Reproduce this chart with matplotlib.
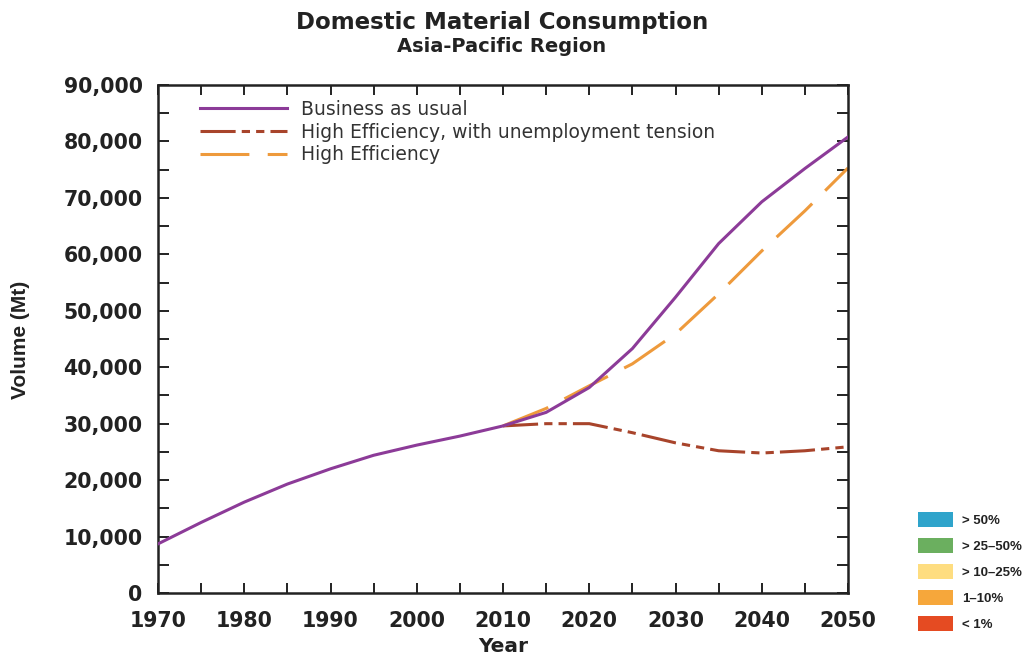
import matplotlib
matplotlib.use("Agg")
import matplotlib.pyplot as plt
from matplotlib.patches import Rectangle
from matplotlib.ticker import MultipleLocator, FuncFormatter

# data (Mt)
years_hist = [1970, 1975, 1980, 1985, 1990, 1995, 2000, 2005, 2010]
dmc_hist = [8700, 12500, 16100, 19300, 22000, 24400, 26200, 27800, 29600]

years_proj = [2010, 2015, 2020, 2025, 2030, 2035, 2040, 2045, 2050]
bau = [29600, 32000, 36400, 43300, 52400, 61900, 69300, 75200, 80800]
high_eff_tension = [29600, 30000, 30000, 28400, 26600, 25200, 24800, 25200, 25900]
high_eff = [29600, 32700, 36700, 40600, 45900, 53000, 60600, 67700, 75300]

key_labels = ["> 50%", "> 25\u201350%", "> 10\u201325%", "1\u201310%", "< 1%"]
key_colors = ["#2FA4CB", "#6BAF5F", "#FEDD80", "#F6A73B", "#E54B22"]

c_bau = "#8C3B98"
c_tension = "#A8442B"
c_eff = "#EE9A3C"
dark = "#222222"
narrow = ["Liberation Sans Narrow", "Liberation Sans", "DejaVu Sans"]

W, H = 1027.0, 654.0
fig = plt.figure(figsize=(W / 100, H / 100), dpi=100)
ax = fig.add_axes([158 / W, 1 - 593 / H, 690 / W, 508 / H])

# business as usual drawn as one line through history + projection
ax.plot(years_hist + years_proj[1:], dmc_hist + bau[1:], color=c_bau, lw=2.2,
        label="Business as usual", zorder=3)
ax.plot(years_proj, high_eff_tension, color=c_tension, lw=2.2,
        dashes=(11.5, 2.0, 2.7, 2.0, 2.7, 2.0),
        label="High Efficiency, with unemployment tension", zorder=2)
ax.plot(years_proj, high_eff, color=c_eff, lw=2.2, dashes=(16, 6),
        label="High Efficiency", zorder=2)

ax.set_xlim(1970, 2050)
ax.set_ylim(0, 90000)
ax.xaxis.set_major_locator(MultipleLocator(10))
ax.xaxis.set_minor_locator(MultipleLocator(5))
ax.yaxis.set_major_locator(MultipleLocator(10000))
ax.yaxis.set_minor_locator(MultipleLocator(5000))
ax.yaxis.set_major_formatter(FuncFormatter(lambda v, p: f"{int(v):,}"))

ax.tick_params(which="both", direction="in", top=True, right=True,
               width=1.4, color=dark)
ax.tick_params(which="both", axis="y", length=8)
ax.tick_params(which="both", axis="x", length=7)
ax.tick_params(which="major", axis="x", pad=13)
ax.tick_params(which="major", axis="y", pad=11)
for lab in ax.get_xticklabels() + ax.get_yticklabels():
    lab.set_fontweight("bold")
    lab.set_fontsize(14.8)
    lab.set_color(dark)
for sp in ax.spines.values():
    sp.set_linewidth(1.8)
    sp.set_color(dark)

fig.text(503 / W, 1 - 646 / H, "Year", ha="center", va="center",
         fontsize=14.5, fontweight="bold", color=dark)
fig.text(21 / W, 1 - 340 / H, "Volume (Mt)", ha="center", va="center",
         rotation=90, fontsize=15, fontweight="bold", color=dark, family=narrow)

leg = ax.legend(loc="upper left", bbox_to_anchor=(0.045, 0.993), frameon=False,
                prop={"family": "DejaVu Sans", "size": 13.5}, handlelength=4.6,
                handletextpad=0.75, labelspacing=0.2, borderaxespad=0.2)
for t in leg.get_texts():
    t.set_color("#333333")

fig.text(502 / W, 1 - 22 / H, "Domestic Material Consumption", ha="center", va="center",
         fontsize=16.5, fontweight="bold", color=dark)
fig.text(502 / W, 1 - 46 / H, "Asia-Pacific Region", ha="center", va="center",
         fontsize=14, fontweight="bold", color=dark)

# colour key, bottom right
for i, (lab, col) in enumerate(zip(key_labels, key_colors)):
    y_top = 512 + i * 26
    fig.patches.append(Rectangle((918 / W, 1 - (y_top + 15) / H), 35 / W, 15 / H,
                                 transform=fig.transFigure, facecolor=col,
                                 edgecolor="none"))
    fig.text(962 / W, 1 - (y_top + 9) / H, lab, ha="left", va="center",
             fontsize=9.5, fontweight="bold", color=dark, family=narrow)

fig.savefig("out.png", dpi=100)
